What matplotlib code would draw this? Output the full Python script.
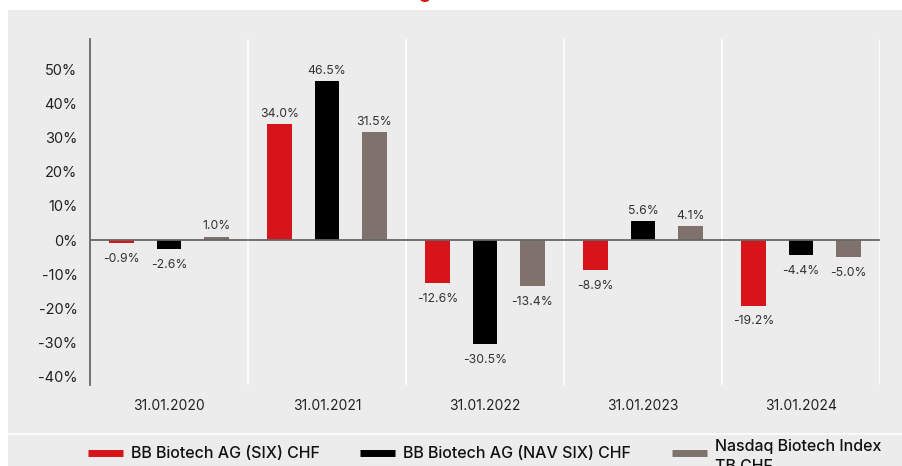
import matplotlib
matplotlib.use("Agg")
import matplotlib.pyplot as plt
import numpy as np
from matplotlib.patches import Rectangle
from matplotlib.lines import Line2D

plt.rcParams['font.family'] = ['Inter', 'DejaVu Sans']

years = ['31.01.2020', '31.01.2021', '31.01.2022', '31.01.2023', '31.01.2024']
bb_six = [-0.9, 34.0, -12.6, -8.9, -19.2]
bb_nav = [-2.6, 46.5, -30.5, 5.6, -4.4]
nasdaq = [1.0, 31.5, -13.4, 4.1, -5.0]
series_names = ['BB Biotech AG (SIX) CHF', 'BB Biotech AG (NAV SIX) CHF', 'Nasdaq Biotech Index\nTB CHF']
yticks = [-40, -30, -20, -10, 0, 10, 20, 30, 40, 50]

colors = ['#d7141a', '#000000', '#7f726c']
bg = '#ececec'

fig = plt.figure(figsize=(9.03, 4.66), dpi=100)
fig.patch.set_facecolor('white')
# grey panel behind chart and legend
fig.patches.append(Rectangle((8/903, 0), 1, 1 - 10/466, transform=fig.transFigure,
                             facecolor=bg, edgecolor='none', zorder=-2))
fig.lines.append(Line2D([8/903, 1], [1 - 434/466, 1 - 434/466], transform=fig.transFigure,
                        color='white', lw=1.2, zorder=-1))
# title, cut off at the top of the image
fig.text(424/903, 1 + 2/466, 'g', color=colors[0], fontsize=14, fontweight='bold',
         ha='center', va='baseline')

ax = fig.add_axes([90/903, 1 - 385/466, 790/903, 346/466])
ax.set_facecolor(bg)

x = np.arange(len(years))
w = 0.158
off = 0.30
for i, (vals, c) in enumerate(zip([bb_six, bb_nav, nasdaq], colors)):
    pos = x + (i - 1) * off
    ax.bar(pos, vals, width=w, color=c, zorder=3)
    for p, v in zip(pos, vals):
        if v >= 0:
            ax.annotate(f'{v:.1f}%', (p, v), xytext=(0, 3), textcoords='offset points',
                        ha='center', va='bottom', fontsize=8.8, color='#333333')
        else:
            ax.annotate(f'{v:.1f}%', (p, v), xytext=(0, -7), textcoords='offset points',
                        ha='center', va='top', fontsize=8.8, color='#333333')

ax.set_xlim(-0.5, len(years) - 0.5)
ax.set_ylim(-42.4, 58.8)
ax.set_yticks(yticks)
ax.set_yticklabels([f'{t}%' for t in yticks], fontsize=10.5, color='#222222')
ax.set_xticks(x)
ax.set_xticklabels(years, fontsize=10, color='#222222')
ax.tick_params(axis='both', length=0)
ax.tick_params(axis='y', pad=9)
ax.tick_params(axis='x', pad=10)

for b in np.arange(0.5, len(years), 1.0):
    ax.axvline(b, color='white', lw=1.2, zorder=1)
ax.axhline(0, color='#666666', lw=1.3, zorder=4)

for s in ['top', 'right', 'bottom']:
    ax.spines[s].set_visible(False)
ax.spines['left'].set_color('#666666')
ax.spines['left'].set_linewidth(1.3)

leg_x = [88, 360, 672]
for h_x, c, name in zip(leg_x, colors, series_names):
    fig.lines.append(Line2D([h_x/903, (h_x + 35)/903], [1 - 453/466] * 2, transform=fig.transFigure,
                            color=c, lw=5, solid_capstyle='butt'))
    if '\n' in name:
        fig.text((h_x + 43)/903, 1 - 439/466, name, fontsize=11.5, color='#111111',
                 ha='left', va='top', fontweight='medium', linespacing=1.4)
    else:
        fig.text((h_x + 43)/903, 1 - 453/466, name, fontsize=11.5, color='#111111',
                 ha='left', va='center', fontweight='medium')

fig.savefig('out.png', dpi=100)
